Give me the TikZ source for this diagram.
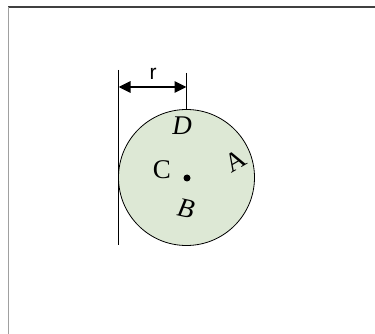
\documentclass[tikz,border=0pt]{standalone}
\usepackage{fontspec}
\setmainfont{Liberation Serif}
\newfontfamily\sansf{Liberation Sans}
\usetikzlibrary{arrows.meta}
\definecolor{disc}{RGB}{221,232,213}
\definecolor{topgrey}{RGB}{64,64,64}
\definecolor{leftgrey}{RGB}{160,160,160}
\begin{document}
\begin{tikzpicture}[x=1pt,y=-1pt,
  lbl/.style={inner sep=0pt,font=\fontsize{27}{27}\selectfont},
  thin line/.style={draw=black,line width=0.8pt}]
\useasboundingbox (0,0) rectangle (375,334);
\draw[topgrey,line width=1.2pt] (8,7) -- (375,7);
\draw[leftgrey,line width=1.6pt] (8.5,7) -- (8.5,334);
\node[circle,draw=black,line width=0.8pt,fill=disc,minimum size=136pt,inner sep=0pt] (circ) at (186.5,177.5) {};
\node[circle,fill=black,minimum size=7pt,inner sep=0pt] (ctr) at (187,178) {};
\coordinate (ltop) at (118.5,70);
\coordinate (lbot) at (118.5,245);
\coordinate (ttop) at (186.5,73);
\draw[thin line] (ltop) -- (lbot);
\draw[thin line] (ttop) -- (circ.north);
\coordinate (aL) at (118.5,87);
\coordinate (aR) at (186.5,87);
\draw[line width=2.8pt,{Triangle[length=12pt,width=11pt]}-{Triangle[length=12pt,width=11pt]}] (aL) -- (aR);
\node[inner sep=0pt,anchor=base,font=\sansf\fontsize{21}{21}\selectfont] (r) at (153,80) {r};
\node[lbl] (D) at (182,125.5) {\itshape D};
\node[lbl] (C) at (162,169.5) {C};
\node[lbl,rotate=30] (A) at (235.5,160.5) {A};
\node[lbl,rotate=-12] (B) at (186,208.5) {\itshape B};
\end{tikzpicture}
\end{document}
